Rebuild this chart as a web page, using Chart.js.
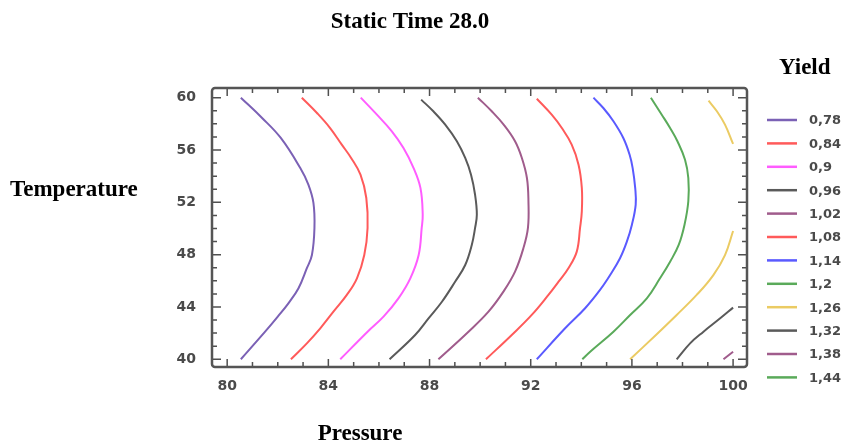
<!DOCTYPE html>
<html>
<head>
<meta charset="utf-8">
<title>Static Time 28.0</title>
<script src="https://cdn.jsdelivr.net/npm/chart.js@4.4.1/dist/chart.umd.min.js"></script>
<style>
  html, body { margin: 0; padding: 0; background: #fff; }
  #contourChart { display: block; }
</style>
</head>
<body>
<canvas id="contourChart" width="844" height="445"></canvas>
<script>
// yield contour levels shown in the legend
const yieldLevels = ["0,78", "0,84", "0,9", "0,96", "1,02", "1,08", "1,14", "1,2", "1,26", "1,32", "1,38", "1,44"];
const levelColors = ["#7b61b5", "#ff5a5a", "#ff5cff", "#5a5a5a", "#a05c8c", "#ff5a5a", "#5a5aff", "#5aaa5a", "#ebcb63", "#5a5a5a", "#a05c8c", "#5aaa5a"];

const pressureTicks = [80, 84, 88, 92, 96, 100];
const temperatureTicks = [40, 44, 48, 52, 56, 60];

// contour traces: [pressure, temperature], listed from 60 down to 40
const level078 = [[80.54, 60], [81.38, 58.45], [82.12, 56.92], [82.89, 54.62], [83.21, 53.35], [83.41, 51.95], [83.45, 50.04], [83.35, 47.97], [83.15, 46.96], [82.82, 45.43], [82.42, 44.28], [82.00, 43.26], [81.50, 42.11], [80.54, 40]];
const level084 = [[82.95, 60], [83.55, 58.83], [84.07, 57.68], [84.53, 56.41], [84.90, 55.39], [85.27, 54.11], [85.50, 52.33], [85.55, 50.04], [85.42, 47.97], [85.13, 46.19], [84.73, 44.92], [84.20, 43.64], [83.68, 42.37], [83.15, 41.22], [82.52, 40]];
const level090 = [[85.28, 60], [85.92, 58.70], [86.51, 57.43], [86.97, 56.15], [87.37, 54.62], [87.64, 53.10], [87.73, 51.06], [87.69, 50.04], [87.57, 47.97], [87.24, 46.19], [86.77, 44.66], [86.18, 43.26], [85.55, 42.11], [84.47, 40]];
const level096 = [[87.67, 59.85], [88.15, 58.96], [88.62, 57.94], [89.08, 56.67], [89.41, 55.39], [89.64, 54.11], [89.80, 52.58], [89.87, 51.06], [89.80, 50.04], [89.67, 48.74], [89.41, 47.21], [89.01, 45.93], [88.49, 44.40], [87.96, 43.13], [87.43, 41.86], [86.42, 40]];
const level102 = [[89.91, 60], [90.46, 58.96], [90.93, 57.94], [91.38, 56.67], [91.65, 55.39], [91.85, 53.86], [91.91, 52.08], [91.89, 50.04], [91.71, 48.49], [91.38, 46.70], [90.92, 45.17], [90.33, 43.64], [89.54, 42.11], [88.35, 40]];
const level108 = [[92.24, 59.92], [92.83, 58.70], [93.23, 57.68], [93.62, 56.41], [93.89, 54.88], [94.02, 53.10], [94.02, 51.31], [93.95, 50.04], [93.82, 48.23], [93.49, 46.96], [93.10, 45.93], [92.70, 44.92], [92.04, 43.39], [91.25, 41.86], [90.23, 40]];
const level114 = [[94.48, 60], [94.87, 59.21], [95.27, 58.20], [95.66, 56.92], [95.91, 55.64], [96.03, 54.62], [96.13, 53.10], [96.15, 51.82], [96.00, 50.29], [95.80, 48.99], [95.53, 47.72], [95.14, 46.44], [94.74, 45.30], [94.15, 43.90], [93.36, 42.37], [92.24, 40]];
const level120 = [[96.75, 60], [97.18, 58.70], [97.51, 57.68], [97.80, 56.67], [98.10, 55.26], [98.23, 53.86], [98.23, 52.08], [98.08, 50.29], [97.85, 48.74], [97.51, 47.46], [97.11, 46.19], [96.59, 44.66], [95.93, 43.39], [95.27, 42.11], [94.35, 40.58], [94.04, 40]];
const level126Top = [[99.03, 59.77], [99.36, 58.96], [99.68, 57.94], [100.0, 56.46]];
const level126Low = [[100.0, 49.81], [99.68, 47.97], [99.22, 46.44], [98.56, 44.92], [97.77, 43.39], [96.95, 41.86], [95.93, 40]];
const level132 = [[100.0, 43.95], [99.49, 43.13], [98.83, 42.11], [98.30, 41.22], [97.77, 40]];
const level138 = [[100.0, 40.58], [99.62, 40]];

const traces = [
  { level: 0, pts: level078 },
  { level: 1, pts: level084 },
  { level: 2, pts: level090 },
  { level: 3, pts: level096 },
  { level: 4, pts: level102 },
  { level: 5, pts: level108 },
  { level: 6, pts: level114 },
  { level: 7, pts: level120 },
  { level: 8, pts: level126Top },
  { level: 8, pts: level126Low },
  { level: 9, pts: level132 },
  { level: 10, pts: level138 },
];

const SERIF = "'Liberation Serif', 'Times New Roman', serif";
const SANS = "'DejaVu Sans', Verdana, sans-serif";
const TICK_COLOR = "#4a4a4a";

function integerTicks(from, to) {
  const out = [];
  for (let v = from; v <= to; v++) out.push({ value: v });
  return out;
}

// frame, inside tick marks, titles and the level legend
const decorations = {
  id: "decorations",
  afterDraw(chart) {
    const ctx = chart.ctx;
    const area = chart.chartArea;
    const xs = chart.scales.x;
    const ys = chart.scales.y;
    ctx.save();

    ctx.strokeStyle = "#505050";
    ctx.lineWidth = 1.5;
    xs.ticks.forEach(t => {
      const px = xs.getPixelForValue(t.value);
      const len = t.value % 4 === 0 ? 8 : 5;
      ctx.beginPath();
      ctx.moveTo(px, area.bottom); ctx.lineTo(px, area.bottom - len);
      ctx.moveTo(px, area.top); ctx.lineTo(px, area.top + len);
      ctx.stroke();
    });
    ys.ticks.forEach(t => {
      const py = ys.getPixelForValue(t.value);
      const len = t.value % 4 === 0 ? 9 : 5;
      ctx.beginPath();
      ctx.moveTo(area.left, py); ctx.lineTo(area.left + len, py);
      ctx.moveTo(area.right, py); ctx.lineTo(area.right - len, py);
      ctx.stroke();
    });

    ctx.strokeStyle = "#555";
    ctx.lineWidth = 2.5;
    ctx.beginPath();
    ctx.roundRect(area.left, area.top, area.right - area.left, area.bottom - area.top, 3);
    ctx.stroke();

    ctx.fillStyle = "#000";
    ctx.font = "bold 23px " + SERIF;
    ctx.textBaseline = "alphabetic";
    ctx.textAlign = "center";
    ctx.fillText("Static Time 28.0", 410, 28);
    ctx.fillText("Pressure", 360, 440);
    ctx.textAlign = "left";
    ctx.fillText("Temperature", 10, 196);
    ctx.fillText("Yield", 779, 74);

    ctx.font = "bold 13px " + SANS;
    ctx.textBaseline = "middle";
    yieldLevels.forEach((lab, i) => {
      const y = 120 + i * 23.4;
      ctx.strokeStyle = levelColors[i];
      ctx.lineWidth = 2.5;
      ctx.beginPath();
      ctx.moveTo(767, y); ctx.lineTo(797, y);
      ctx.stroke();
      ctx.fillStyle = TICK_COLOR;
      ctx.fillText(lab, 809, y + 1);
    });
    ctx.restore();
  }
};

new Chart(document.getElementById("contourChart"), {
  type: "scatter",
  data: {
    datasets: traces.map(t => ({
      label: yieldLevels[t.level],
      data: t.pts.map(p => ({ x: p[0], y: p[1] })),
      showLine: true,
      borderColor: levelColors[t.level],
      borderWidth: 2,
      tension: 0.4,
      pointRadius: 0,
      fill: false,
    })),
  },
  options: {
    responsive: false,
    animation: false,
    layout: { padding: { left: 0, top: 88, right: 97, bottom: 0 } },
    plugins: {
      legend: { display: false },
      tooltip: { enabled: false },
    },
    scales: {
      x: {
        type: "linear",
        min: 79.4,
        max: 100.55,
        afterBuildTicks: axis => { axis.ticks = integerTicks(80, 100); },
        afterFit: axis => { axis.height = 78; },
        grid: { display: false },
        border: { display: false },
        ticks: {
          autoSkip: false,
          maxRotation: 0,
          padding: 3,
          color: TICK_COLOR,
          font: { family: SANS, size: 14, weight: "bold" },
          callback: v => (pressureTicks.includes(v) ? String(v) : ""),
        },
      },
      y: {
        type: "linear",
        min: 39.41,
        max: 60.74,
        afterBuildTicks: axis => { axis.ticks = integerTicks(40, 60); },
        afterFit: axis => { axis.width = 212; },
        grid: { display: false },
        border: { display: false },
        ticks: {
          autoSkip: false,
          padding: 8,
          color: TICK_COLOR,
          font: { family: SANS, size: 14, weight: "bold" },
          callback: v => (temperatureTicks.includes(v) ? String(v) : ""),
        },
      },
    },
  },
  plugins: [decorations],
});
</script>
</body>
</html>
